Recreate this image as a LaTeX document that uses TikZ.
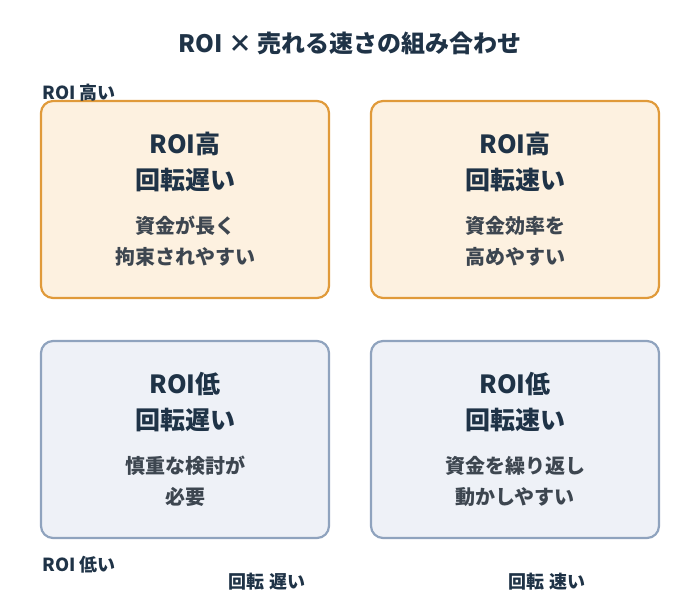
\documentclass[tikz,border=0pt]{standalone}
\usepackage{fontspec}
\setmainfont{Noto Sans CJK JP}
\usetikzlibrary{positioning}
\definecolor{ink}{HTML}{1F3347}
\definecolor{subink}{HTML}{3D4650}
\definecolor{hiline}{HTML}{E09A3A}
\definecolor{hifill}{HTML}{FDF1E0}
\definecolor{loline}{HTML}{8FA3BE}
\definecolor{lofill}{HTML}{EEF1F7}
\tikzset{
  quad/.style={draw, line width=2.2pt, rounded corners=12pt, minimum width=288pt, minimum height=197pt},
  hi/.style={quad, draw=hiline, fill=hifill},
  lo/.style={quad, draw=loline, fill=lofill},
  head/.style={font=\bfseries\fontsize{25}{36}\selectfont, text=ink, align=center},
  note/.style={font=\bfseries\fontsize{20}{31}\selectfont, text=subink, align=center},
  axis/.style={font=\bfseries\fontsize{18}{22}\selectfont, text=ink}
}
\begin{document}
\begin{tikzpicture}[x=1pt,y=-1pt]
  \useasboundingbox (0,0) rectangle (700,600);
  % title
  \node[font=\bfseries\fontsize{24}{28}\selectfont, text=ink] (title) at (350,43) {ROI × 売れる速さの組み合わせ};
  % quadrants
  \node[hi] (q1) at (185,199.5) {};
  \node[hi] (q2) at (515,199.5) {};
  \node[lo] (q3) at (185,439.5) {};
  \node[lo] (q4) at (515,439.5) {};
  \node[head] (h1) at (185,162) {ROI高\\回転遅い};
  \node[note] (n1) at (185,241) {資金が長く\\拘束されやすい};
  \node[head] (h2) at (515,162) {ROI高\\回転速い};
  \node[note] (n2) at (515,241) {資金効率を\\高めやすい};
  \node[head] (h3) at (185,402) {ROI低\\回転遅い};
  \node[note] (n3) at (185,481) {慎重な検討が\\必要};
  \node[head] (h4) at (515,402) {ROI低\\回転速い};
  \node[note] (n4) at (515,481) {資金を繰り返し\\動かしやすい};
  % axes
  \node[axis, anchor=west] (ytop) at (39,93) {ROI 高い};
  \node[axis, anchor=west] (ybot) at (39,565) {ROI 低い};
  \node[axis] (xslow) at (267,582) {回転 遅い};
  \node[axis] (xfast) at (547,582) {回転 速い};
\end{tikzpicture}
\end{document}
